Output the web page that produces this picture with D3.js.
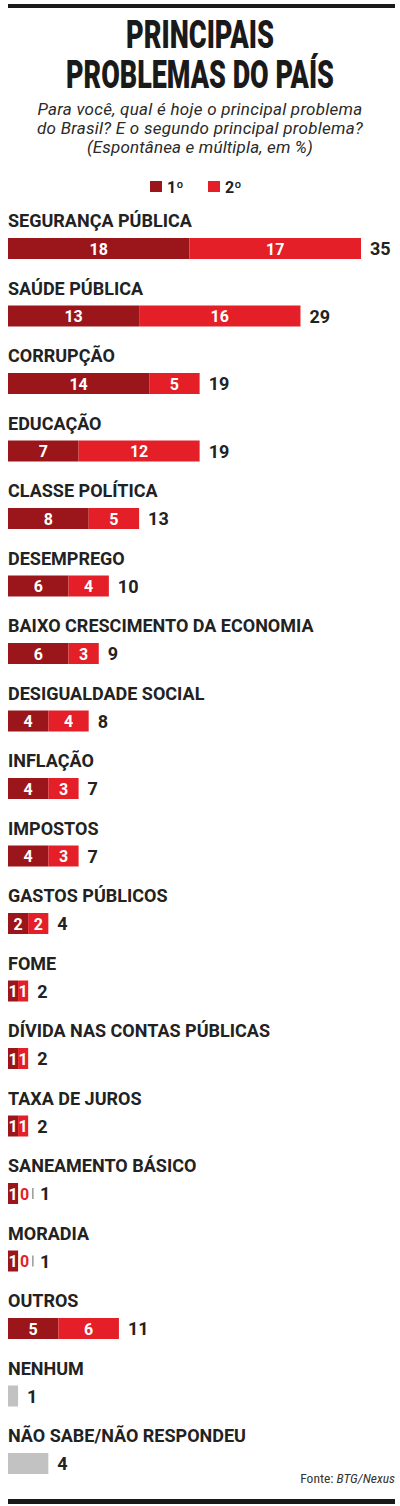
<!DOCTYPE html>
<html><head><meta charset="utf-8">
<script src="https://cdn.jsdelivr.net/npm/d3@7"></script>
<style>body{margin:0;background:#fff}svg{display:block}</style>
</head><body>
<script>
const categories = ["SEGURANÇA PÚBLICA","SAÚDE PÚBLICA","CORRUPÇÃO","EDUCAÇÃO","CLASSE POLÍTICA","DESEMPREGO","BAIXO CRESCIMENTO DA ECONOMIA","DESIGUALDADE SOCIAL","INFLAÇÃO","IMPOSTOS","GASTOS PÚBLICOS","FOME","DÍVIDA NAS CONTAS PÚBLICAS","TAXA DE JUROS","SANEAMENTO BÁSICO","MORADIA","OUTROS","NENHUM","NÃO SABE/NÃO RESPONDEU"];
const first  = [18,13,14,7,8,6,6,4,4,4,2,1,1,1,1,1,5,null,null];
const second = [17,16,5,12,5,4,3,4,3,3,2,1,1,1,0,0,6,null,null];
const totals = [35,29,19,19,13,10,9,8,7,7,4,2,2,2,1,1,11,1,4];
const legendLabels = ["1º","2º"];
const titleLines = ["PRINCIPAIS","PROBLEMAS DO PAÍS"];
const subtitleLines = ["Para você, qual é hoje o principal problema","do Brasil? E o segundo principal problema?","(Espontânea e múltipla, em %)"];

const W=400,H=1506;
const C1="#9b161b", C2="#e41f28", GR="#c2c2c2", INK="#222";
const svg=d3.select("body").append("svg").attr("width",W).attr("height",H);

svg.append("rect").attr("x",8).attr("y",4).attr("width",387).attr("height",4).attr("fill","#1a1a1a");
svg.append("rect").attr("x",8).attr("y",1499).attr("width",387).attr("height",5).attr("fill","#1a1a1a");

// title: scale horizontally to the condensed width of the original
const tl=[{t:titleLines[0],y:48,w:148},{t:titleLines[1],y:88,w:268}];
svg.selectAll("text.title").data(tl).join("text").attr("class","title")
  .attr("x",0).attr("y",0).attr("text-anchor","middle")
  .attr("font-family","Roboto, 'DejaVu Sans'").attr("font-weight",900).attr("font-size",38).attr("fill","#1a1a1a")
  .text(d=>d.t)
  .each(function(d){
    const nat=this.getComputedTextLength();
    d3.select(this).attr("transform",`translate(200,${d.y}) scale(${d.w/nat},1)`);
  });

const subW=[325,326,226];
svg.selectAll("text.sub").data(subtitleLines).join("text").attr("class","sub")
  .attr("x",200).attr("y",(d,i)=>115+i*19).attr("text-anchor","middle")
  .attr("font-family","Roboto").attr("font-style","italic").attr("font-size",17).attr("fill","#2a2a2a")
  .text(d=>d)
  .each(function(d,i){
    const nat=this.getComputedTextLength();
    const n=d.length;
    const ls=Math.max(-0.5,Math.min(1,(subW[i]-nat)/n));
    d3.select(this).attr("letter-spacing",ls);
  });

// legend
const lg=svg.append("g");
[[150,C1,legendLabels[0]],[208,C2,legendLabels[1]]].forEach(([x,c,t])=>{
  lg.append("rect").attr("x",x).attr("y",181).attr("width",12).attr("height",11).attr("fill",c);
  lg.append("text").attr("x",x+17).attr("y",192.5).attr("font-family","Roboto").attr("font-weight",700).attr("font-size",16).attr("fill",INK).text(t);
});

const x=d3.scaleLinear().domain([0,35]).range([8,361]);
const y=d3.scaleLinear().domain([0,categories.length-1]).range([238,238+18*67.5]);
const bh=21;
const font="Roboto, 'Liberation Sans', sans-serif";

const rows=svg.selectAll("g.row").data(categories.map((c,i)=>({c,i,a:first[i],b:second[i],t:totals[i]}))).join("g").attr("class","row")
  .attr("transform",d=>`translate(0,${y(d.i)})`);

rows.append("text").attr("x",8).attr("y",-11).attr("font-family",font).attr("font-weight",700)
  .attr("font-size",18).attr("fill",INK).text(d=>d.c);

rows.each(function(d){
  const g=d3.select(this);
  let end;
  if(d.a==null){
    end=x(d.t);
    g.append("rect").attr("x",x(0)).attr("y",0).attr("width",x(d.t)-x(0)).attr("height",bh).attr("fill",GR);
  } else {
    end=x(d.a+d.b);
    g.append("rect").attr("x",x(0)).attr("y",0).attr("width",x(d.a)-x(0)).attr("height",bh).attr("fill",C1);
    g.append("text").attr("x",(x(0)+x(d.a))/2).attr("y",16.5).attr("text-anchor","middle").attr("font-family",font)
      .attr("font-weight",700).attr("font-size",16).attr("fill","#fff").text(d.a);
    if(d.b>0){
      g.append("rect").attr("x",x(d.a)).attr("y",0).attr("width",x(d.a+d.b)-x(d.a)).attr("height",bh).attr("fill",C2);
      g.append("text").attr("x",(x(d.a)+x(d.a+d.b))/2).attr("y",16.5).attr("text-anchor","middle").attr("font-family",font)
        .attr("font-weight",700).attr("font-size",16).attr("fill","#fff").text(d.b);
    } else {
      g.append("text").attr("x",end+2).attr("y",16.5).attr("font-family",font)
        .attr("font-weight",700).attr("font-size",16).attr("fill",C2).text(d.b);
      g.append("rect").attr("x",end+14).attr("y",5).attr("width",1.5).attr("height",11).attr("fill","#9a9a9a");
      end=end+13;
    }
  }
  g.append("text").attr("x",end+9).attr("y",17).attr("font-family",font).attr("font-weight",700)
    .attr("font-size",18).attr("fill",INK).text(d.t);
});

const src=svg.append("text").attr("x",395).attr("y",1483).attr("text-anchor","end")
  .attr("font-family","'Roboto Condensed', Roboto").attr("font-size",13.5).attr("fill","#333");
src.append("tspan").text("Fonte: ");
src.append("tspan").attr("font-style","italic").text("BTG/Nexus");
</script>
</body></html>
